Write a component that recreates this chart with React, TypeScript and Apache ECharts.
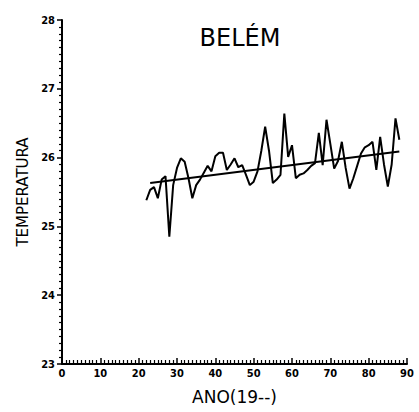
import React, { useEffect, useRef } from "react";
import * as echarts from "echarts";

const years = [22,23,24,25,26,27,28,29,30,31,32,33,34,35,36,37,38,39,40,41,42,43,44,45,46,47,48,49,50,51,52,53,54,55,56,57,58,59,60,61,62,63,64,65,66,67,68,69,70,71,72,73,74,75,76,77,78,79,80,81,82,83,84,85,86,87,88];
const temps = [25.38,25.53,25.57,25.41,25.68,25.73,24.85,25.6,25.85,25.99,25.94,25.7,25.41,25.6,25.68,25.78,25.88,25.8,26.02,26.07,26.07,25.82,25.9,25.99,25.86,25.89,25.75,25.6,25.65,25.8,26.1,26.45,26.1,25.63,25.68,25.75,26.64,26.01,26.18,25.7,25.75,25.77,25.82,25.88,25.92,26.36,25.89,26.55,26.2,25.84,25.95,26.23,25.85,25.55,25.7,25.88,26.06,26.15,26.18,26.23,25.82,26.3,25.9,25.58,25.9,26.57,26.26];
const trendYears = [23, 88];
const trendTemps = [25.63, 26.09];

export default function App() {
  const ref = useRef<HTMLDivElement>(null);
  useEffect(() => {
    const chart = echarts.init(ref.current!, null, { renderer: "svg" });
    const labelStyle = { color: "#000", fontFamily: "DejaVu Sans Condensed", fontWeight: "bold", fontSize: 11 };
    chart.setOption({
      animation: false,
      backgroundColor: "#fff",
      title: {
        text: "BELÉM",
        left: 235,
        top: 21,
        textAlign: "center",
        textStyle: { fontFamily: "DejaVu Sans", fontWeight: "normal", fontSize: 24, color: "#000" },
      },
      grid: { left: 62, right: 12, top: 20, bottom: 48 },
      xAxis: {
        type: "value",
        min: 0,
        max: 90,
        interval: 10,
        name: "ANO(19--)",
        nameLocation: "middle",
        nameGap: 24,
        nameTextStyle: { color: "#000", fontFamily: "DejaVu Sans", fontSize: 17 },
        axisLine: { lineStyle: { color: "#000", width: 2 } },
        axisTick: { inside: true, length: 6, lineStyle: { color: "#000", width: 1.5 } },
        minorTick: { show: true, splitNumber: 10, length: 4, lineStyle: { color: "#000", width: 1.2 } },
        axisLabel: { ...labelStyle, margin: 4 },
        splitLine: { show: false },
      },
      yAxis: {
        type: "value",
        min: 23,
        max: 28,
        interval: 1,
        name: "TEMPERATURA",
        nameLocation: "middle",
        nameGap: 30,
        nameTextStyle: { color: "#000", fontFamily: "DejaVu Sans", fontSize: 15 },
        axisLine: { lineStyle: { color: "#000", width: 2 } },
        axisTick: { length: 5, lineStyle: { color: "#000", width: 1.5 } },
        minorTick: { show: true, splitNumber: 10, length: 3, lineStyle: { color: "#000", width: 1.2 } },
        axisLabel: { ...labelStyle, margin: 7 },
        splitLine: { show: false },
      },
      series: [
        {
          type: "line",
          data: years.map((y, i) => [y, temps[i]]),
          showSymbol: false,
          lineStyle: { color: "#000", width: 2 },
        },
        {
          type: "line",
          data: trendYears.map((y, i) => [y, trendTemps[i]]),
          showSymbol: false,
          lineStyle: { color: "#000", width: 2 },
        },
      ],
    });
    return () => chart.dispose();
  }, []);
  return <div ref={ref} style={{ width: 419, height: 412, position: "absolute", left: 0, top: 0 }} />;
}
